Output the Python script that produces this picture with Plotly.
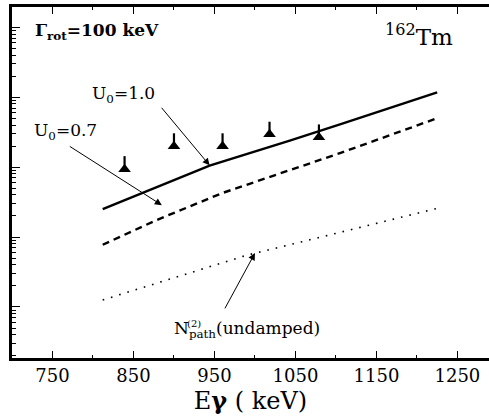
import math
import plotly.graph_objects as go

# Gamma-ray energies (keV) and path numbers for the three calculations
e_u10 = [812, 861, 944, 1043, 1105, 1225]
n_u10 = [25.1, 42.7, 104.7, 239.9, 407.4, 1175]

e_u07 = [812, 878, 960, 1043, 1105, 1225]
n_u07 = [7.76, 17.4, 42.7, 91.2, 158.5, 501]

e_undamped = [812, 919, 990, 1043, 1225]
n_undamped = [1.26, 3.09, 5.50, 7.76, 25.7]

# Experimental points with upper uncertainties
e_exp = [839, 900, 960, 1018, 1079]
n_exp = [93.6, 199.5, 199.5, 296, 268]
n_exp_err_up = [50, 105, 105, 150, 140]

x_ticks = [750, 850, 950, 1050, 1150, 1250]

SERIF = "DejaVu Serif"

fig = go.Figure()
fig.add_trace(go.Scatter(x=e_u10, y=n_u10, mode="lines",
                         line=dict(color="black", width=2.4),
                         showlegend=False))
fig.add_trace(go.Scatter(x=e_u07, y=n_u07, mode="lines",
                         line=dict(color="black", width=2.4, dash="7px,5px"),
                         showlegend=False))
fig.add_trace(go.Scatter(x=e_undamped, y=n_undamped, mode="lines",
                         line=dict(color="black", width=1.6, dash="1.6px,7px"),
                         showlegend=False))
fig.add_trace(go.Scatter(x=e_exp, y=n_exp, mode="markers",
                         marker=dict(symbol="triangle-up", size=11, color="black"),
                         error_y=dict(type="data", symmetric=False,
                                      array=n_exp_err_up,
                                      arrayminus=[0] * len(n_exp),
                                      color="black", thickness=2.2, width=0),
                         showlegend=False))

# Arrows pointing from the labels to the curves: (head x, head y, tail dx, tail dy)
arrows = [
    (944, 106.0, -50, -60),
    (885, 28.6, -94, -60),
    (1000, 5.9, -32, 59),
]
for hx, hy, dx, dy in arrows:
    # annotation positions on a log axis are given in log10 units
    fig.add_annotation(x=hx, y=math.log10(hy), xref="x", yref="y", ax=dx, ay=dy,
                       axref="pixel", ayref="pixel",
                       text="&nbsp;", showarrow=True, arrowhead=2, arrowsize=1.4,
                       arrowwidth=1, arrowcolor="black", standoff=0,
                       font=dict(size=4, color="rgba(0,0,0,0)"))

labels = [
    (0.044, 0.929, "<b>Γ<sub>rot</sub>=100 keV</b>", 17),
    (0.778, 0.920, "<sup>162</sup>Tm", 23),
    (0.164, 0.752, "U<sub>0</sub>=1.0", 17),
    (0.042, 0.644, "U<sub>0</sub>=0.7", 17),
    (0.335, 0.080, "N<sub>path</sub>(undamped)", 17),
    (0.363, 0.098, "(2)", 10),
]
for lx, ly, txt, fs in labels:
    fig.add_annotation(x=lx, y=ly, xref="paper", yref="paper", text=txt,
                       showarrow=False, xanchor="left", yanchor="middle",
                       font=dict(family=SERIF, size=fs, color="black"))

fig.update_xaxes(range=[700, 1289], tickvals=x_ticks,
                 ticktext=[str(v) for v in x_ticks],
                 ticks="inside", ticklen=7, tickwidth=1.2, tickcolor="black",
                 minor=dict(dtick=50, tick0=750, ticks="inside", ticklen=3, tickcolor="black"),
                 showline=True, linecolor="black", linewidth=2.5, mirror="ticks",
                 showgrid=False, zeroline=False,
                 tickfont=dict(family=SERIF, size=18, color="black"),
                 title=dict(text="E<b>γ</b> ( keV)", standoff=0,
                            font=dict(family=SERIF, size=24, color="black")))
fig.update_yaxes(type="log", range=[-0.73, 4.29], dtick=1,
                 showticklabels=False,
                 ticks="inside", ticklen=8, tickwidth=1.2, tickcolor="black",
                 minor=dict(ticks="inside", ticklen=4, tickcolor="black"),
                 showline=True, linecolor="black", linewidth=2.5, mirror=False,
                 showgrid=False, zeroline=False)

fig.update_layout(width=489, height=418,
                  margin=dict(l=12, r=0, t=7, b=60),
                  plot_bgcolor="white", paper_bgcolor="white")

fig.write_html("out.html")
